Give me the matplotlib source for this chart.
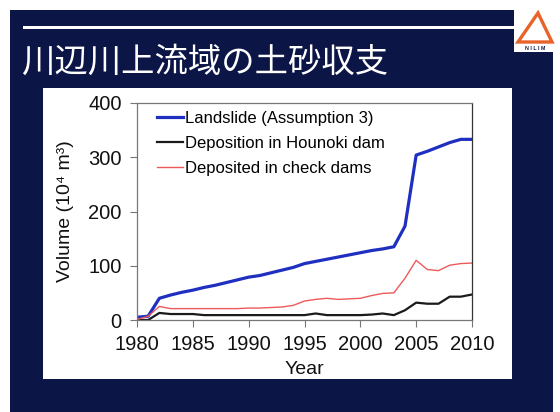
import matplotlib.pyplot as plt
from matplotlib.patches import Rectangle, Polygon

# Values (10^4 m3)
years = list(range(1980, 2011))
landslide = [5, 7, 40, 46, 51, 55, 60, 64, 69, 74, 79, 82, 87, 92, 97, 104,
             108, 112, 116, 120, 124, 128, 131, 135, 173, 304, 311, 319, 327, 333, 333]
hounoki = [0, 0, 13, 11, 11, 11, 9, 9, 9, 9, 9, 9, 9, 9, 9, 9,
           12, 9, 9, 9, 9, 10, 12, 9, 18, 32, 30, 30, 43, 43, 47]
check_dams = [1, 7, 25, 21, 21, 21, 21, 21, 21, 21, 22, 22, 23, 24, 27, 35,
              38, 40, 38, 39, 40, 45, 49, 50, 77, 110, 93, 91, 101, 104, 105]

series_labels = ["Landslide (Assumption 3)", "Deposition in Hounoki dam",
                 "Deposited in check dams"]
title = "川辺川上流域の土砂収支"

W, H = 560, 412
navy = "#0b1546"
font = ["Liberation Sans", "DejaVu Sans"]
plt.rcParams["font.family"] = font


def px_rect(x0, y0, x1, y1, **kw):
    # rectangle given in pixel coords (top-left origin), kept behind the axes
    return Rectangle((x0 / W, 1 - y1 / H), (x1 - x0) / W, (y1 - y0) / H,
                     transform=fig.transFigure, zorder=-5, **kw)


fig = plt.figure(figsize=(W / 100, H / 100), dpi=100, facecolor="white")

# ── slide background ────────────────────────────────────────────────
fig.add_artist(px_rect(10, 10, 514, 412, color=navy, lw=0))
fig.add_artist(px_rect(514, 52, 553, 412, color=navy, lw=0))
fig.add_artist(px_rect(23, 26, 514, 29, color="white", lw=0))
fig.add_artist(px_rect(43, 88, 512, 379, color="white", lw=0))

fig.text(21 / W, 1 - 62 / H, title, color="white", fontsize=24,
         family=["Noto Sans CJK JP", "DejaVu Sans"],
         va="center", ha="left")

# logo
tri = [(538, 13), (518, 42), (552, 42)]
fig.add_artist(Polygon([(x / W, 1 - y / H) for x, y in tri], closed=True,
                       fill=False, edgecolor="#e8632a", lw=2.4,
                       transform=fig.transFigure))
fig.text(535 / W, 1 - 49 / H, "N I L I M", color=navy, fontsize=3.8,
         fontweight="bold", ha="center", va="center")

# ── chart ───────────────────────────────────────────────────────────
ax = fig.add_axes([137 / W, 1 - 320 / H, (472 - 137) / W, (320 - 103) / H])
ax.set_zorder(5)
ax.plot(years, landslide, color="#1f30c0", lw=2.3, label=series_labels[0])
ax.plot(years, hounoki, color="#1a1a1a", lw=1.6, label=series_labels[1])
ax.plot(years, check_dams, color="#ec5a5a", lw=1.0, label=series_labels[2])

ax.set_xlim(1980, 2010)
ax.set_ylim(0, 400)
ax.set_xticks(range(1980, 2011, 5))
ax.set_yticks(range(0, 401, 100))
ax.tick_params(labelsize=14.5, length=5, width=0.8, color="#777777",
               labelcolor="#111111")
ax.tick_params(axis="x", pad=6)
ax.tick_params(axis="y", pad=6)
for side, sp in ax.spines.items():
    sp.set_color("#777777")
    sp.set_linewidth(0.9)
ax.spines["right"].set_color("#333333")

ax.set_xlabel("Year", fontsize=14, color="#111111", labelpad=5)
ax.set_ylabel("Volume (10⁴ m³)", fontsize=14, color="#111111", labelpad=10)

ax.legend(loc="upper left", frameon=False, fontsize=12, handlelength=1.55,
          handletextpad=0.15, labelspacing=0.6, borderaxespad=0.2,
          bbox_to_anchor=(0.03, 1.01))

fig.savefig("out.png", dpi=100, facecolor="white")
